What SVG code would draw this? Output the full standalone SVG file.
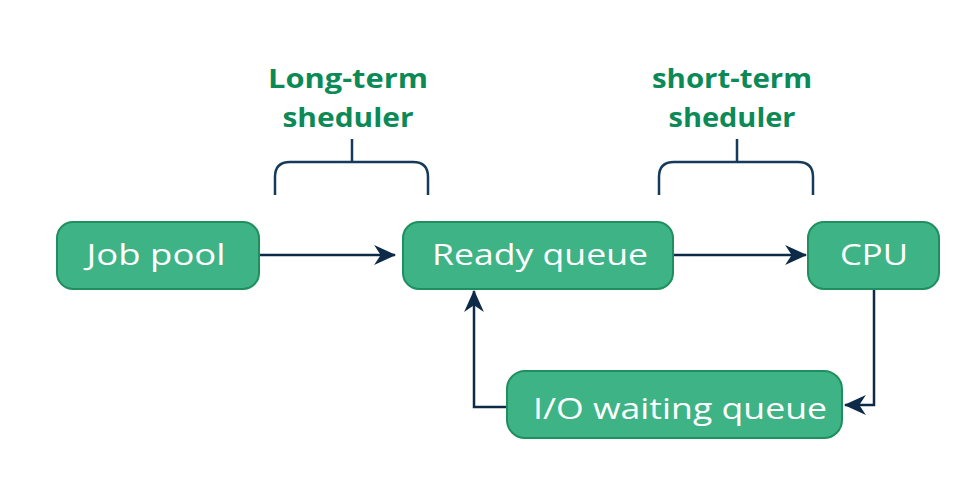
<svg xmlns="http://www.w3.org/2000/svg" width="977" height="491" viewBox="0 0 977 491">
<defs>
<style>
.box{fill:#3eb386;stroke:#1f8f60;stroke-width:2}
.nt{font-family:"Open Sans","Liberation Sans",sans-serif;font-size:30px;fill:#ffffff;text-anchor:middle}
.lt{font-family:"Open Sans","Liberation Sans",sans-serif;font-size:27px;font-weight:700;fill:#0b8a57;text-anchor:middle}
.con{fill:none;stroke:#0d2b48;stroke-width:2.5}
.br{fill:none;stroke:#163a5a;stroke-width:2.5}
</style>
<marker id="ah" viewBox="0 0 20 20" refX="19" refY="10" markerWidth="22" markerHeight="22" markerUnits="userSpaceOnUse" orient="auto">
<path d="M0,1 L20,10 L0,19 L6,10 Z" fill="#0d2b48"/>
</marker>
</defs>
<rect width="977" height="491" fill="#ffffff"/>
<g id="long-term-label">
<text class="lt" x="348" y="88" textLength="160" lengthAdjust="spacingAndGlyphs">Long-term</text>
<text class="lt" x="348" y="127" textLength="131" lengthAdjust="spacingAndGlyphs">sheduler</text>
<path class="br" d="M275,195 V177 Q275,162 290,162 H413 Q428,162 428,177 V195 M352,162 V139"/>
</g>
<g id="short-term-label">
<text class="lt" x="732" y="88" textLength="160" lengthAdjust="spacingAndGlyphs">short-term</text>
<text class="lt" x="732" y="127" textLength="127" lengthAdjust="spacingAndGlyphs">sheduler</text>
<path class="br" d="M659,195 V177 Q659,162 674,162 H798 Q813,162 813,177 V195 M737,162 V139"/>
</g>
<g id="connectors">
<path class="con" d="M259,255 H395" marker-end="url(#ah)"/>
<path class="con" d="M673,255 H806" marker-end="url(#ah)"/>
<path class="con" d="M874,289 V405 H845" marker-end="url(#ah)"/>
<path class="con" d="M507,407 H474 V291" marker-end="url(#ah)"/>
</g>
<g id="job-pool">
<rect class="box" x="57" y="222" width="202" height="67" rx="16"/>
<text class="nt" x="156" y="265" textLength="139" lengthAdjust="spacingAndGlyphs">Job pool</text>
</g>
<g id="ready-queue">
<rect class="box" x="403" y="222" width="270" height="67" rx="16"/>
<text class="nt" x="540" y="265" textLength="216" lengthAdjust="spacingAndGlyphs">Ready queue</text>
</g>
<g id="cpu">
<rect class="box" x="808" y="222" width="131" height="67" rx="16"/>
<text class="nt" x="874" y="265" textLength="68" lengthAdjust="spacingAndGlyphs">CPU</text>
</g>
<g id="io-waiting-queue">
<rect class="box" x="507" y="371" width="335" height="67" rx="18"/>
<text class="nt" x="680" y="419" textLength="294" lengthAdjust="spacingAndGlyphs">I/O waiting queue</text>
</g>
</svg>
